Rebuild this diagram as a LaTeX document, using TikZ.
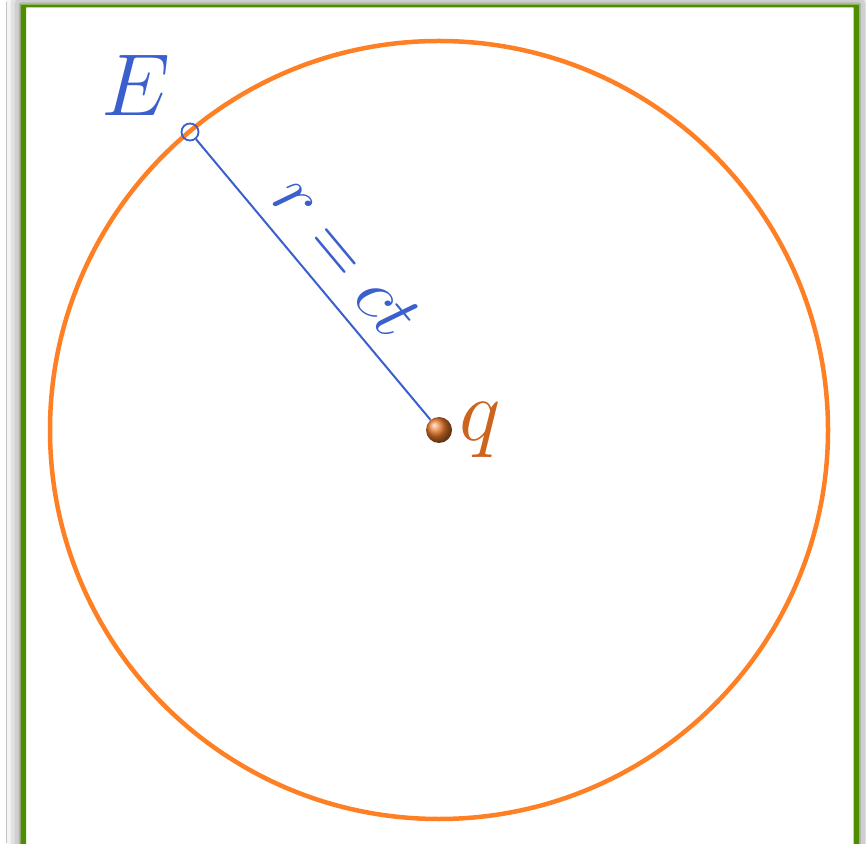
\RequirePackage{fix-cm}
\documentclass[tikz,border=0pt]{standalone}
\usepackage{amsmath}
\usetikzlibrary{positioning,shadows.blur}
\definecolor{wavefront}{RGB}{255,128,36}
\definecolor{fieldblue}{RGB}{59,95,205}
\definecolor{chargebrown}{RGB}{205,100,30}
\definecolor{ballorange}{RGB}{228,118,40}
\definecolor{framegreen}{RGB}{78,140,0}

\begin{document}
\begin{tikzpicture}[x=1pt, y=1pt, bigmath/.style={font=\fontsize{88}{100}\selectfont}]
    \useasboundingbox (0,0) rectangle (866,843);
    \clip (0,0) rectangle (866,843);
    \fill[white] (0,0) rectangle (866,843);
    % panel with its shadow, then the frame, sides a little heavier than the top
    \fill[white, blur shadow={shadow xshift=0pt, shadow yshift=0pt, shadow blur radius=14pt, shadow opacity=60}]
      (20.5,838.5) rectangle (859,-40);
    \fill[framegreen, even odd rule] (20.5,838.5) rectangle (859,-40) (26,835.5) rectangle (853.5,-40);
    \draw[wavefront, line width=4.5pt] (439,413) circle[radius=389];
    \node[circle, draw=fieldblue, line width=1.8pt, inner sep=0pt, minimum size=17pt] (Epoint) at (190,711) {};
    \node[circle, shading=ball, ball color=ballorange, inner sep=0pt, minimum size=26pt] (charge) at (439,413) {};
    \draw[fieldblue, line width=2pt] (Epoint) -- (charge)
      node[pos=0.51, sloped, above=13pt, font=\fontsize{74}{86}\selectfont] (rlabel) {$r = ct$};
    \node[bigmath, text=fieldblue] (Elabel) at (136,758) {$E$};
    \node[bigmath, text=chargebrown, right=4pt of charge] (qlabel) {$q$};
  \end{tikzpicture}
\end{document}
